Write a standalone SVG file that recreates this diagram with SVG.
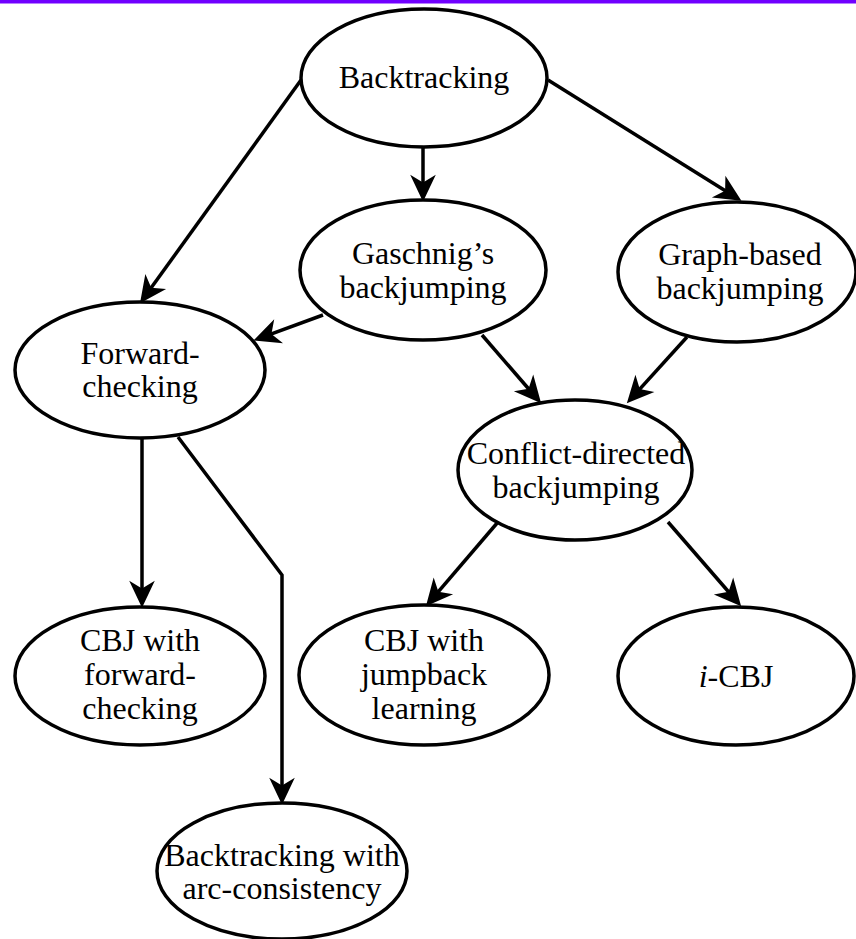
<svg xmlns="http://www.w3.org/2000/svg" width="856" height="939" viewBox="0 0 856 939">
  <style>
    .node ellipse { fill: #ffffff; stroke: #000000; stroke-width: 3.5; }
    .node text { font-family: "Liberation Serif", "Times New Roman", serif; font-size: 32px; fill: #000000; text-anchor: middle; }
    .edge { fill: none; stroke: #000000; stroke-width: 3.5; marker-end: url(#arrow); }
  </style>
  <defs>
    <marker id="arrow" markerUnits="userSpaceOnUse" markerWidth="32" markerHeight="32" refX="0" refY="0" viewBox="-17 -12 25 24" orient="auto">
      <path d="M6,0 L-15,-10 L-9,0 L-15,10 Z" fill="#000000"/>
    </marker>
  </defs>

  <rect x="0" y="0" width="856" height="939" fill="#ffffff"/>
  <rect x="0" y="0" width="856" height="3.5" fill="#7000ff"/>

  <!-- connectors -->
  <g id="edges">
    <path class="edge" d="M301,80 L144.5,297.1"/>
    <path class="edge" d="M423,147 L423,194"/>
    <path class="edge" d="M548,80 L734.9,196.8"/>
    <path class="edge" d="M323,315 L260.6,337.9"/>
    <path class="edge" d="M482,335 L536.1,397.5"/>
    <path class="edge" d="M687,337 L632,397.6"/>
    <path class="edge" d="M142,438 L142,600"/>
    <path class="edge" d="M178,437 L282,575 L282,797"/>
    <path class="edge" d="M498,522 L430.9,600.4"/>
    <path class="edge" d="M668,522 L736.1,600.5"/>
  </g>

  <!-- nodes -->
  <g id="backtracking" class="node">
    <ellipse cx="424" cy="78" rx="123" ry="69"/>
    <text x="424" y="88">Backtracking</text>
  </g>
  <g id="gaschnig" class="node">
    <ellipse cx="423" cy="270" rx="123" ry="70"/>
    <text x="423" y="264">Gaschnig’s</text>
    <text x="423" y="298">backjumping</text>
  </g>
  <g id="graph-based" class="node">
    <ellipse cx="737" cy="272" rx="119" ry="70"/>
    <text x="740" y="265">Graph-based</text>
    <text x="740" y="299">backjumping</text>
  </g>
  <g id="forward-checking" class="node">
    <ellipse cx="140" cy="370" rx="125" ry="68"/>
    <text x="140" y="364">Forward-</text>
    <text x="140" y="397">checking</text>
  </g>
  <g id="conflict-directed" class="node">
    <ellipse cx="575" cy="470" rx="117" ry="70"/>
    <text x="576" y="464">Conflict-directed</text>
    <text x="576" y="498">backjumping</text>
  </g>
  <g id="cbj-forward" class="node">
    <ellipse cx="140" cy="676" rx="125" ry="69"/>
    <text x="140" y="651">CBJ with</text>
    <text x="140" y="685">forward-</text>
    <text x="140" y="719">checking</text>
  </g>
  <g id="cbj-jumpback" class="node">
    <ellipse cx="424" cy="675" rx="125" ry="70"/>
    <text x="424" y="651">CBJ with</text>
    <text x="424" y="685">jumpback</text>
    <text x="424" y="719">learning</text>
  </g>
  <g id="i-cbj" class="node">
    <ellipse cx="736" cy="676" rx="118" ry="69"/>
    <text x="736" y="687"><tspan font-style="italic">i</tspan>-CBJ</text>
  </g>
  <g id="backtracking-arc" class="node">
    <ellipse cx="282" cy="871" rx="125" ry="68"/>
    <text x="282" y="866">Backtracking with</text>
    <text x="282" y="899">arc-consistency</text>
  </g>
</svg>
